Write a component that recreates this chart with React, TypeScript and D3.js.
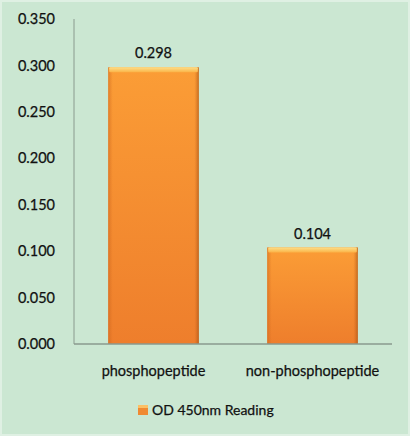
import React from "react";
import * as d3 from "d3";

const categories = ["phosphopeptide", "non-phosphopeptide"];
const values = [0.298, 0.104];
const yTicks = [0, 0.05, 0.1, 0.15, 0.2, 0.25, 0.3, 0.35];
const seriesName = "OD 450nm Reading";

const W = 410;
const H = 436;
const margin = { top: 19, right: 18, bottom: 92, left: 74 };
const FONT = "Lato, 'Open Sans', sans-serif";

const App = () => {
  const innerW = W - margin.left - margin.right;
  const innerH = H - margin.top - margin.bottom;

  const x = d3.scaleBand<string>()
    .domain(categories)
    .range([0, innerW])
    .paddingInner(0.43)
    .paddingOuter(0.215);

  const y = d3.scaleLinear()
    .domain([0, 0.35])
    .range([innerH, 0]);

  const fmt = d3.format(".3f");
  // slight stroke to mimic the heavier text of the original
  const textStyle = { fill: "#111", stroke: "#111", strokeWidth: 0.25 };

  return (
    <svg
      width={W}
      height={H}
      style={{ position: "absolute", left: 0, top: 0, fontFamily: FONT }}
    >
      <defs>
        <linearGradient id="barFill" x1="0" y1="0" x2="0" y2="1">
          <stop offset="0" stopColor="#fb9d36" />
          <stop offset="1" stopColor="#ee7e2c" />
        </linearGradient>
        <linearGradient id="barSide" x1="0" y1="0" x2="1" y2="0">
          <stop offset="0" stopColor="#c8621c" stopOpacity={0.5} />
          <stop offset="0.05" stopColor="#c8621c" stopOpacity={0} />
          <stop offset="0.95" stopColor="#c8621c" stopOpacity={0} />
          <stop offset="1" stopColor="#9a4a12" stopOpacity={0.6} />
        </linearGradient>
        <linearGradient id="bevel" x1="0" y1="0" x2="0" y2="1">
          <stop offset="0" stopColor="#fde08a" />
          <stop offset="1" stopColor="#fbb347" />
        </linearGradient>
      </defs>

      <rect x={0} y={0} width={W} height={H} fill="#cbe7d2" />
      <rect x={1} y={1} width={W - 2} height={H - 2} fill="none" stroke="#dff0e3" strokeWidth={2} />

      <g transform={`translate(${margin.left},${margin.top})`}>
        {/* Y axis */}
        <line x1={0} x2={0} y1={0} y2={innerH} stroke="#8a9a8e" strokeWidth={1} />
        {yTicks.map((t) => (
          <text
            key={t}
            x={-19}
            y={y(t)}
            dy="0.35em"
            textAnchor="end"
            fontSize={14.5}
            style={textStyle}
          >
            {fmt(t)}
          </text>
        ))}

        {/* Bars */}
        {categories.map((c, i) => {
          const bx = x(c) || 0;
          const by = y(values[i]);
          const bh = innerH - by;
          const bw = x.bandwidth();
          return (
            <g key={c}>
              <rect x={bx} y={by} width={bw} height={bh} fill="url(#barFill)" />
              <rect x={bx} y={by} width={bw} height={bh} fill="url(#barSide)" />
              <rect x={bx + 1} y={by} width={bw - 2} height={5} fill="url(#bevel)" rx={1} />
              <text
                x={bx + bw / 2}
                y={by - 14}
                dy="0.35em"
                textAnchor="middle"
                fontSize={14.5}
                style={textStyle}
              >
                {fmt(values[i])}
              </text>
            </g>
          );
        })}

        {/* X axis */}
        <line x1={0} x2={innerW} y1={innerH} y2={innerH} stroke="#8a9a8e" strokeWidth={1.5} />
        {categories.map((c) => (
          <text
            key={c}
            x={(x(c) || 0) + x.bandwidth() / 2}
            y={innerH + 27}
            dy="0.35em"
            textAnchor="middle"
            fontSize={14.5}
            style={textStyle}
          >
            {c}
          </text>
        ))}
      </g>

      {/* Legend */}
      <g transform="translate(138,405)">
        <rect x={0} y={0} width={10} height={10} fill="#f08a32" />
        <rect x={0} y={0} width={10} height={3} fill="#fcc064" />
        <text x={14} y={5} dy="0.35em" fontSize={14} style={textStyle}>
          {seriesName}
        </text>
      </g>
    </svg>
  );
};

export default App;
